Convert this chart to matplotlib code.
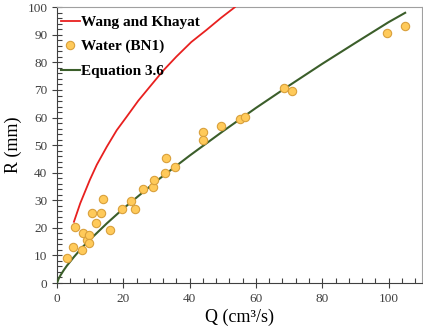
import matplotlib.pyplot as plt
from matplotlib.ticker import MultipleLocator

# Wang and Khayat curve
wk_q = [5.1, 7.0, 9.9, 12.0, 15.0, 18.0, 21.0, 24.5, 28.0, 32.0, 36.0, 40.5, 45.1, 49.5, 53.6]
wk_r = [22.2, 28.9, 37.4, 42.9, 49.4, 55.4, 60.3, 66.1, 71.2, 77.0, 82.1, 87.4, 91.8, 96.2, 100.0]

# Water (BN1) measurements
water_q = [2.9, 4.9, 5.3, 7.5, 7.8, 9.0, 9.7, 9.7, 10.5, 11.7, 13.3, 13.9, 15.9,
           19.6, 22.3, 23.6, 25.8, 28.8, 29.2, 32.7, 32.9, 35.5, 43.9, 43.9,
           49.6, 55.1, 56.8, 68.6, 70.9, 99.6, 105.1]
water_r = [9.2, 13.1, 20.3, 11.8, 18.0, 15.6, 17.3, 14.5, 25.5, 21.8, 25.5, 30.3, 19.4,
           26.8, 29.7, 26.8, 34.2, 34.9, 37.2, 39.9, 45.3, 42.0, 54.8, 51.9,
           57.1, 59.5, 60.2, 70.7, 69.6, 90.6, 93.1]

# Equation 3.6 curve
eq_q = [0, 0.5, 1, 2, 3, 5, 7.5, 10, 15, 20, 30, 40, 50, 60, 70, 80, 90, 100, 105]
eq_r = [0, 1.6, 2.7, 4.6, 6.3, 9.3, 12.8, 15.8, 21.6, 27.0, 37.0, 46.2, 55.0,
        63.5, 71.6, 79.5, 87.1, 94.6, 98.0]

plt.rcParams['font.family'] = ['Liberation Serif', 'DejaVu Serif']

fig = plt.figure(figsize=(4.23, 3.31), dpi=100)
ax = fig.add_axes([0.1348, 0.145, 0.8622, 0.833])

ax.plot(wk_q, wk_r, color='#E8201F', lw=1.3, label='Wang and Khayat', zorder=3)
ax.plot(water_q, water_r, 'o', ms=6, mfc='#FFCA5A', mec='#D9A03C', mew=0.8,
        label='Water (BN1)', zorder=4)
ax.plot(eq_q, eq_r, color='#3B5E2A', lw=1.5, label='Equation 3.6', zorder=3)

ax.set_xlim(0, 110)
ax.set_ylim(0, 100)
ax.xaxis.set_major_locator(MultipleLocator(20))
ax.xaxis.set_minor_locator(MultipleLocator(4))
ax.yaxis.set_major_locator(MultipleLocator(10))
ax.yaxis.set_minor_locator(MultipleLocator(2))
ax.tick_params(which='major', direction='inout', length=7, width=0.8,
               color='#404040', labelsize=9.5, labelcolor='#404040')
ax.tick_params(which='minor', direction='in', length=3.5, width=0.8, color='#404040')
ax.tick_params(axis='x', pad=4)
for side in ['left', 'bottom']:
    ax.spines[side].set_color('#404040')
for side in ['top', 'right']:
    ax.spines[side].set_color('#A0A0A0')

ax.set_xlabel('Q (cm³/s)', fontsize=13, labelpad=2)
ax.set_ylabel('R (mm)', fontsize=13, labelpad=4)

ax.legend(loc='upper left', bbox_to_anchor=(-0.01, 1.0), frameon=False,
          prop={'weight': 'bold', 'size': 11}, handlelength=1.2,
          handletextpad=0.1, labelspacing=0.7, borderaxespad=0.1, borderpad=0.42)

plt.savefig('out.png', dpi=100)
